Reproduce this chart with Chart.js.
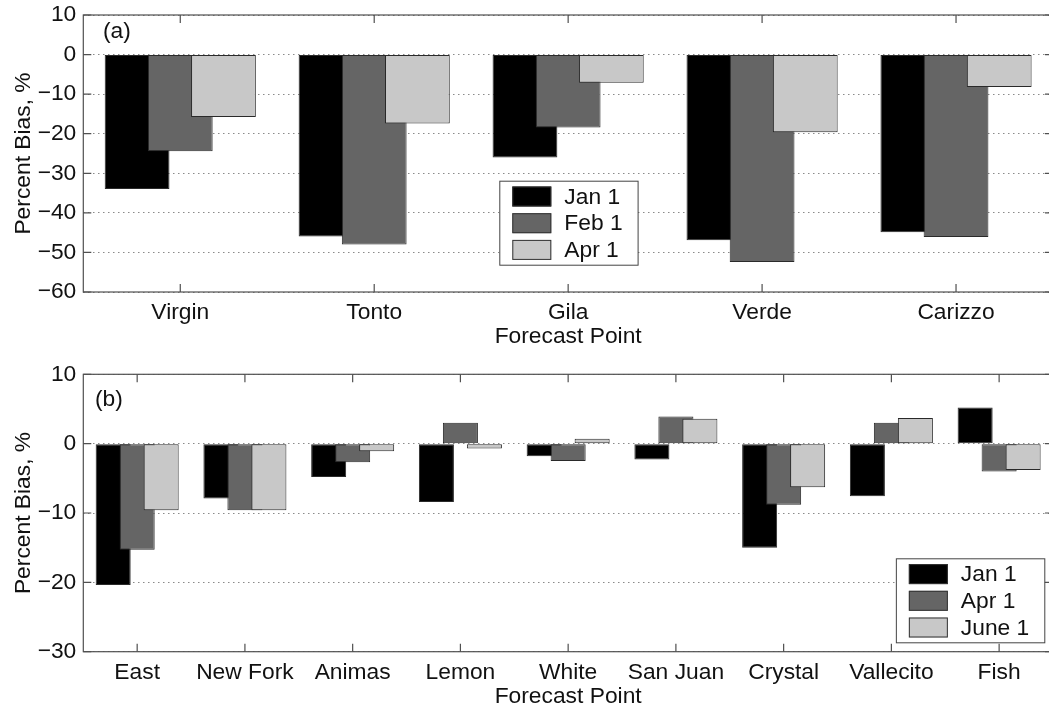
<!DOCTYPE html>
<html><head><meta charset="utf-8">
<script src="https://cdn.jsdelivr.net/npm/chart.js@4.4.1/dist/chart.umd.min.js"></script>
<style>
html,body{margin:0;padding:0;background:#fff;overflow:hidden;width:1049px;height:711px;position:relative}
#cA{position:absolute;left:0;top:0}
#cB{position:absolute;left:0;top:350px}
</style></head><body>
<canvas id="cA" width="1053" height="350" style="width:1053px;height:350px"></canvas>
<canvas id="cB" width="1053" height="361" style="width:1053px;height:361px"></canvas>
<script>
// ---- data: panel (a) ----
const pointsA = ['Virgin', 'Tonto', 'Gila', 'Verde', 'Carizzo'];
const seriesNamesA = ['Jan 1', 'Feb 1', 'Apr 1'];
const jan1A = [-34.0, -46.0, -26.0, -46.9, -44.9];
const feb1A = [-24.4, -48.0, -18.4, -52.4, -46.1];
const apr1A = [-15.8, -17.4, -7.1, -19.6, -8.2];
const yTicksA = [10, 0, -10, -20, -30, -40, -50, -60];

// ---- data: panel (b) ----
const pointsB = ['East', 'New Fork', 'Animas', 'Lemon', 'White', 'San Juan', 'Crystal', 'Vallecito', 'Fish'];
const seriesNamesB = ['Jan 1', 'Apr 1', 'June 1'];
const jan1B = [-20.4, -7.9, -4.8, -8.4, -1.8, -2.3, -15.0, -7.6, 5.2];
const apr1B = [-15.3, -9.6, -2.7, 3.0, -2.5, 3.9, -8.8, 3.0, -4.0];
const june1B = [-9.6, -9.6, -1.1, -0.7, 0.7, 3.6, -6.3, 3.7, -3.8];
const yTicksB = [10, 0, -10, -20, -30];

const xTitle = 'Forecast Point';
const yTitle = 'Percent Bias, %';
const panelLabels = ['(a)', '(b)'];

// ---- styling ----
const FAMILY = '"Liberation Sans", Arial, Helvetica, sans-serif';
const FS = 22.8;
const TEXT = '#111111';
const FILLS = ['#000000', '#656565', '#c8c8c8'];
const BAR_EDGE = '#2a2a2a';
const FRAME = '#505050';

const fmtTick = v => (v < 0 ? '\u2212' + Math.abs(v) : String(v));

// draw datasets in index order so later series sit on top of earlier ones
const drawInIndexOrder = {
  id: 'drawInIndexOrder',
  beforeDatasetsDraw(chart) {
    const metas = chart.getSortedVisibleDatasetMetas();
    for (const meta of metas) {
      if (typeof chart._drawDataset === 'function') chart._drawDataset(meta);
      else meta.controller.draw();
    }
    return false;
  }
};

const frameAndTicks = {
  id: 'frameAndTicks',
  afterDraw(chart, args, opts) {
    const {ctx, chartArea: a, scales} = chart;
    const tl = 8;
    ctx.save();
    ctx.strokeStyle = FRAME;
    ctx.lineWidth = 1.2;
    ctx.strokeRect(a.left, a.top, a.right - a.left, a.bottom - a.top);
    ctx.beginPath();
    const xs = scales.x;
    for (let i = 0; i < xs.ticks.length; i++) {
      const px = xs.getPixelForTick(i);
      ctx.moveTo(px, a.bottom); ctx.lineTo(px, a.bottom - tl);
      ctx.moveTo(px, a.top); ctx.lineTo(px, a.top + tl);
    }
    const ys = scales.y;
    ys.ticks.forEach(t => {
      const py = ys.getPixelForValue(t.value);
      ctx.moveTo(a.left, py); ctx.lineTo(a.left + tl, py);
      ctx.moveTo(a.right, py); ctx.lineTo(a.right - tl, py);
    });
    ctx.stroke();
    // panel label
    ctx.fillStyle = TEXT;
    ctx.font = FS + 'px ' + FAMILY;
    ctx.textAlign = 'left';
    ctx.textBaseline = 'alphabetic';
    ctx.fillText(opts.label, opts.lx, opts.ly);
    ctx.restore();
  }
};

const boxLegend = {
  id: 'boxLegend',
  afterDraw(chart, args, opts) {
    const ctx = chart.ctx;
    ctx.save();
    ctx.font = FS + 'px ' + FAMILY;
    const items = chart.data.datasets.map(d => ({label: d.label, color: d.backgroundColor}));
    const textW = Math.max(...items.map(i => ctx.measureText(i.label).width));
    const padL = 13, swW = 39, swH = 20, gap = 13, padR = 15, rowH = 26.7, firstRow = 15.8, h = 84;
    const w = padL + swW + gap + textW + padR;
    const x0 = opts.anchor === 'right' ? opts.x - w : opts.x;
    const y0 = opts.y;
    ctx.fillStyle = '#ffffff';
    ctx.fillRect(x0, y0, w, h);
    ctx.strokeStyle = '#444444';
    ctx.lineWidth = 1;
    ctx.strokeRect(x0 + 0.5, y0 + 0.5, w, h);
    items.forEach((it, i) => {
      const cy = y0 + firstRow + i * rowH;
      ctx.fillStyle = it.color;
      ctx.fillRect(x0 + padL, cy - swH / 2, swW, swH);
      ctx.strokeStyle = '#333333';
      ctx.strokeRect(x0 + padL + 0.5, cy - swH / 2 + 0.5, swW - 1, swH - 1);
      ctx.fillStyle = TEXT;
      ctx.textAlign = 'left';
      ctx.textBaseline = 'middle';
      ctx.fillText(it.label, x0 + padL + swW + gap, cy + 1);
    });
    ctx.restore();
  }
};

function makeChart(canvasId, cfg) {
  const datasets = cfg.series.map((vals, i) => ({
    label: cfg.names[i],
    data: vals,
    backgroundColor: FILLS[i],
    borderColor: BAR_EDGE,
    borderWidth: 1,
    borderSkipped: false,
    categoryPercentage: 0.668,
    barPercentage: cfg.barPct
  }));
  return new Chart(document.getElementById(canvasId), {
    type: 'bar',
    data: {labels: cfg.labels, datasets},
    options: {
      responsive: false,
      maintainAspectRatio: false,
      devicePixelRatio: 1,
      animation: false,
      events: [],
      layout: {padding: {top: cfg.top, left: 0, right: 0, bottom: 0}},
      plugins: {
        legend: {display: false},
        tooltip: {enabled: false},
        frameAndTicks: {label: cfg.panel, lx: cfg.lx, ly: cfg.ly},
        boxLegend: cfg.legend
      },
      scales: {
        x: {
          type: 'category',
          grid: {display: false},
          border: {display: false},
          ticks: {
            color: TEXT, font: {family: FAMILY, size: FS},
            padding: -1, maxRotation: 0, minRotation: 0, autoSkip: false
          },
          title: {
            display: true, text: xTitle, color: TEXT,
            font: {family: FAMILY, size: FS}, padding: {top: 0, bottom: cfg.xTitlePad}
          },
          afterFit: s => { s.height = cfg.xAxisH; s.paddingLeft = 0; s.paddingRight = 0; }
        },
        y: {
          min: cfg.yTicks[cfg.yTicks.length - 1],
          max: cfg.yTicks[0],
          afterBuildTicks: s => { s.ticks = cfg.yTicks.map(v => ({value: v})); },
          grid: {color: '#8a8a8a', lineWidth: 1, drawTicks: false},
          border: {display: false, dash: [1.5, 3.5]},
          ticks: {
            color: TEXT, font: {family: FAMILY, size: FS}, padding: 7,
            callback: v => fmtTick(v)
          },
          title: {
            display: true, text: yTitle, color: TEXT,
            font: {family: FAMILY, size: FS}, padding: {top: 10, bottom: 0}
          },
          afterFit: s => { s.width = 83.3; s.paddingTop = 0; s.paddingBottom = 0; }
        }
      }
    },
    plugins: [drawInIndexOrder, frameAndTicks, boxLegend]
  });
}

makeChart('cA', {
  labels: pointsA, names: seriesNamesA, series: [jan1A, feb1A, apr1A],
  yTicks: yTicksA, top: 15, xAxisH: 58, xTitlePad: 0, barPct: 1.5,
  panel: panelLabels[0], lx: 103, ly: 38,
  legend: {anchor: 'left', x: 499.3, y: 180.7}
});
makeChart('cB', {
  labels: pointsB, names: seriesNamesB, series: [jan1B, apr1B, june1B],
  yTicks: yTicksB, top: 24.3, xAxisH: 59.3, xTitlePad: 1, barPct: 1.46,
  panel: panelLabels[1], lx: 95, ly: 55.7,
  legend: {anchor: 'right', x: 1044.3, y: 208.3}
});
</script>
</body></html>
